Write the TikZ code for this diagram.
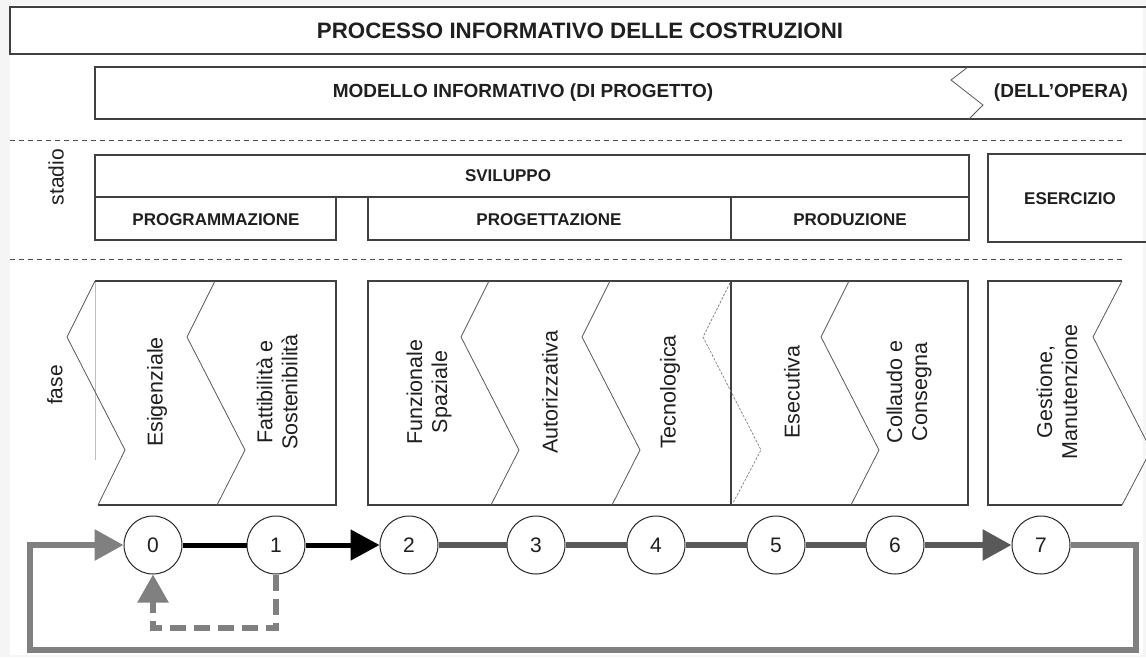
\documentclass[tikz,border=0pt]{standalone}
\usepackage{fontspec}
\setmainfont{Liberation Sans}
\usetikzlibrary{arrows.meta}

\begin{document}
\begin{tikzpicture}[x=1pt,y=-1pt,
  frame/.style={draw=black!75, line width=1.3pt},
  chev/.style={draw=black!65, line width=0.8pt},
  chevdash/.style={draw=black!50, line width=0.7pt, dash pattern=on 2.5pt off 1.5pt},
  sep/.style={draw=black!70, line width=0.9pt, dash pattern=on 5pt off 4pt},
  txt/.style={text=black!88, inner sep=0pt},
  bigcaps/.style={txt, font=\bfseries\fontsize{22.3}{26}\selectfont},
  midcaps/.style={txt, font=\bfseries\fontsize{19}{22}\selectfont},
  caps/.style={txt, font=\bfseries\fontsize{17}{20}\selectfont},
  phase/.style={txt, rotate=90, align=center, font=\fontsize{21.5}{25}\selectfont},
  sidelabel/.style={txt, rotate=90, font=\fontsize{21}{25}\selectfont},
  num/.style={circle, draw=black!85, line width=1pt, minimum size=58pt,
    inner sep=0pt, fill=white, text=black!88, font=\fontsize{21}{25}\selectfont},
  blackline/.style={draw=black, line width=5pt},
  darkline/.style={draw=black!65, line width=6pt},
  loopline/.style={draw=black!50, line width=6pt},
  backline/.style={draw=black!50, line width=5.5pt, dash pattern=on 16pt off 8pt},
  tip/.style={-{Triangle[length=29pt,width=30pt]}}
]
\useasboundingbox (0,0) rectangle (1146,657);
\fill[black!4] (0,0) rectangle (1146,657);
\fill[white] (10,5) rectangle (1143,655);

% headline bars
\draw[frame] (1150,7) -- (10,7) -- (10,54) -- (1150,54);
\node[bigcaps] (title) at (580,31) {PROCESSO INFORMATIVO DELLE COSTRUZIONI};
\draw[frame] (1150,67) -- (95,67) -- (95,119) -- (1150,119);
\draw[chev] (968,67) -- (951,80) -- (983,105) -- (969,119);
\node[midcaps] (model) at (523,93) {MODELLO INFORMATIVO (DI PROGETTO)};
\node[midcaps] (opera) at (1061,93) {(DELL’OPERA)};

% separators
\draw[sep] (10,140) -- (1124,140);
\draw[sep] (10,259) -- (1124,259);

% stages
\node[sidelabel] (stadio) at (56,177) {stadio};
\draw[frame] (95,155) rectangle (969,197);
\draw[frame] (95,197) rectangle (336,240);
\draw[frame] (368,197) rectangle (731,240);
\draw[frame] (731,197) rectangle (969,240);
\draw[frame] (1150,154) -- (988,154) -- (988,242) -- (1150,242);
\node[caps] (svil) at (508,176) {SVILUPPO};
\node[caps] (progr) at (216,220) {PROGRAMMAZIONE};
\node[caps] (proget) at (549,220) {PROGETTAZIONE};
\node[caps] (produz) at (850,220) {PRODUZIONE};
\node[caps] (eserc) at (1070,199) {ESERCIZIO};

% phases
\node[sidelabel] (fase) at (55,385) {fase};
% block 1
\draw[black!25, line width=0.6pt] (95,281) -- (95,460);
\draw[frame] (95,281) -- (336,281) -- (336,505) -- (98,505);
\draw[chev] (95,281) -- (67,337) -- (125,450) -- (98,505);
\draw[chev] (215,281) -- (187,337) -- (245,450) -- (217,505);
% block 2
\draw[frame] (368,281) rectangle (731,505);
\draw[chev] (489,281) -- (461,337) -- (519,450) -- (491,505);
\draw[chev] (610,281) -- (582,337) -- (640,450) -- (612,505);
\draw[chevdash] (730,283) -- (703,337) -- (761,450) -- (733,503);
% block 3
\draw[frame] (731,281) -- (968,281) -- (968,505) -- (731,505);
\draw[chev] (849,281) -- (821,337) -- (879,450) -- (851,505);
% block 4
\draw[frame] (1122,281) -- (988,281) -- (988,505) -- (1122,505);
\draw[chev] (1122,281) -- (1093,337) -- (1151,450) -- (1122,505);

\node[phase] (f0) at (157,392) {Esigenziale};
\node[phase] (f1) at (277,392) {Fattibilità e\\Sostenibilità};
\node[phase] (f2) at (429,392) {Funzionale\\Spaziale};
\node[phase] (f3) at (550,392) {Autorizzativa};
\node[phase] (f4) at (670,392) {Tecnologica};
\node[phase] (f5) at (792,392) {Esecutiva};
\node[phase] (f6) at (909,392) {Collaudo e\\Consegna};
\node[phase] (f7) at (1057,392) {Gestione,\\Manutenzione};

% numbered steps
\node[num] (c0) at (153,545) {0};
\node[num] (c1) at (276,545) {1};
\node[num] (c2) at (409,545) {2};
\node[num] (c3) at (536,545) {3};
\node[num] (c4) at (656,545) {4};
\node[num] (c5) at (776,545) {5};
\node[num] (c6) at (895,545) {6};
\node[num] (c7) at (1041,545) {7};

\coordinate (lr) at (1136,650);
\coordinate (ll) at (30,650);
\coordinate (dl) at (153,628);

\draw[blackline] (c0) -- (c1);
\draw[blackline, tip] (c1) -- (c2);
\draw[darkline] (c2) -- (c3);
\draw[darkline] (c3) -- (c4);
\draw[darkline] (c4) -- (c5);
\draw[darkline] (c5) -- (c6);
\draw[darkline, tip] (c6) -- (c7);
\draw[loopline, tip] (c7) -| (lr) -- (ll) |- (c0);
\draw[backline, -{Triangle[length=28pt,width=30pt]}] (c1) |- (dl) -- (c0);
\end{tikzpicture}
\end{document}
